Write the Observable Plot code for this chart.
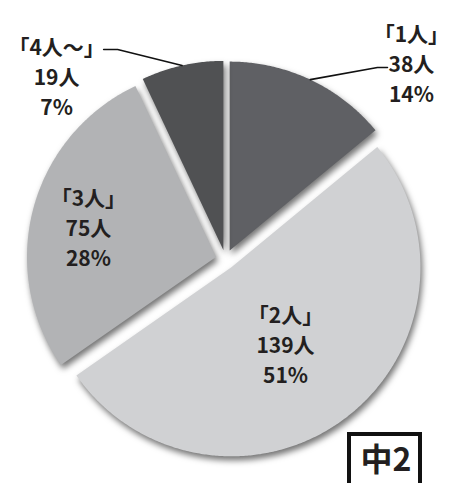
<!DOCTYPE html>
<html><head><meta charset="utf-8">
<script src="https://cdn.jsdelivr.net/npm/d3@7"></script>
<script src="https://cdn.jsdelivr.net/npm/@observablehq/plot@0.6"></script>
<style>html,body{margin:0;padding:0;background:#fff} .pie-slice{filter:drop-shadow(2px 4px 3px rgba(0,0,0,0.55));}</style>
</head><body><div id="chart"></div>
<script>
// ---- data ----
const categories = ["「1人」", "「2人」", "「3人」", "「4人～」"];
const counts = [38, 139, 75, 19];
const percents = ["14%", "51%", "28%", "7%"];
const unitLabel = "人";
const badgeText = "中2";

// ---- styles / layout ----
const colors = ["#5f6064", "#d0d1d3", "#b2b3b5", "#505153"];
const W = 449, H = 483, R = 189, CX = 225, CY = 259;
const explode = 0.052;
// label placement (polar, relative to each slice's exploded apex; radius in pie radii)
const labelLayout = [
  {angle: 44.0, r: 1.384, leader: {angle: 38.9, r: 1.245, tail: 10}},
  {angle: 144.6, r: 0.494},
  {angle: 283.4, r: 0.694},
  {angle: 316.3, r: 1.277, leader: {angle: 332.2, r: 1.199, tail: -14}}
];

const rad = d => d * Math.PI / 180;
const pol = (a, r, o) => [o[0] + r * Math.sin(rad(a)), o[1] - r * Math.cos(rad(a))];
const total = d3.sum(counts);
let acc = 0;
const slices = categories.map((c, i) => {
  const a0 = acc / total * 360; acc += counts[i]; const a1 = acc / total * 360;
  const mid = (a0 + a1) / 2;
  return {c, i, a0, a1, mid, apex: pol(mid, explode, [0, 0])};
});
const slicePoly = s => {
  const pts = [{x: s.apex[0], y: s.apex[1]}];
  const n = Math.ceil((s.a1 - s.a0) / 0.5);
  for (let k = 0; k <= n; k++) {
    const [x, y] = pol(s.a0 + (s.a1 - s.a0) * k / n, 1, s.apex);
    pts.push({x, y});
  }
  pts.push({x: s.apex[0], y: s.apex[1]});
  return pts;
};
const labels = slices.map(s => {
  const L = labelLayout[s.i];
  const [x, y] = pol(L.angle, L.r, s.apex);
  return {x, y, text: `${s.c}\n${counts[s.i]}${unitLabel}\n${percents[s.i]}`};
});
const leaders = [];
for (const s of slices) {
  const L = labelLayout[s.i].leader;
  if (!L) continue;
  const p0 = pol(s.mid, 1, s.apex);
  const p1 = pol(L.angle, L.r, s.apex);
  const p2 = [p1[0] + L.tail / R, p1[1]];
  for (const p of [p0, p1, p2]) leaders.push({c: s.c, x: p[0], y: p[1]});
}
const px2x = p => (p - CX) / R, px2y = p => (p - CY) / R;
const badge = [{x1: px2x(349), x2: px2x(420), y1: px2y(434), y2: px2y(H + 20), xc: px2x(385.5), yc: px2y(460), text: badgeText}];

const plot = Plot.plot({
  width: W, height: H, margin: 0,
  x: {domain: [px2x(0), px2x(W)], range: [0, W], axis: null},
  y: {domain: [px2y(0), px2y(H)], range: [0, H], axis: null},
  style: {fontFamily: "'Noto Sans CJK JP', 'Noto Sans', sans-serif", background: "#fff"},
  marks: [
    ...slices.map(s => Plot.line(slicePoly(s), {x: "x", y: "y", fill: colors[s.i], stroke: "none", curve: "linear", className: "pie-slice"})),
    Plot.line(leaders, {x: "x", y: "y", z: "c", stroke: "#111", strokeWidth: 1.6}),
    Plot.text(labels, {x: "x", y: "y", text: "text", fontSize: 21, fontWeight: "bold", lineHeight: 1.43, fill: "#231f20"}),
    Plot.rect(badge, {x1: "x1", x2: "x2", y1: "y1", y2: "y2", fill: "#fff", stroke: "#111", strokeWidth: 4}),
    Plot.text(badge, {x: "xc", y: "yc", text: "text", fontSize: 32, fontWeight: "bold", fill: "#231f20"})
  ]
});
document.getElementById("chart").appendChild(plot);
</script>
</body></html>
